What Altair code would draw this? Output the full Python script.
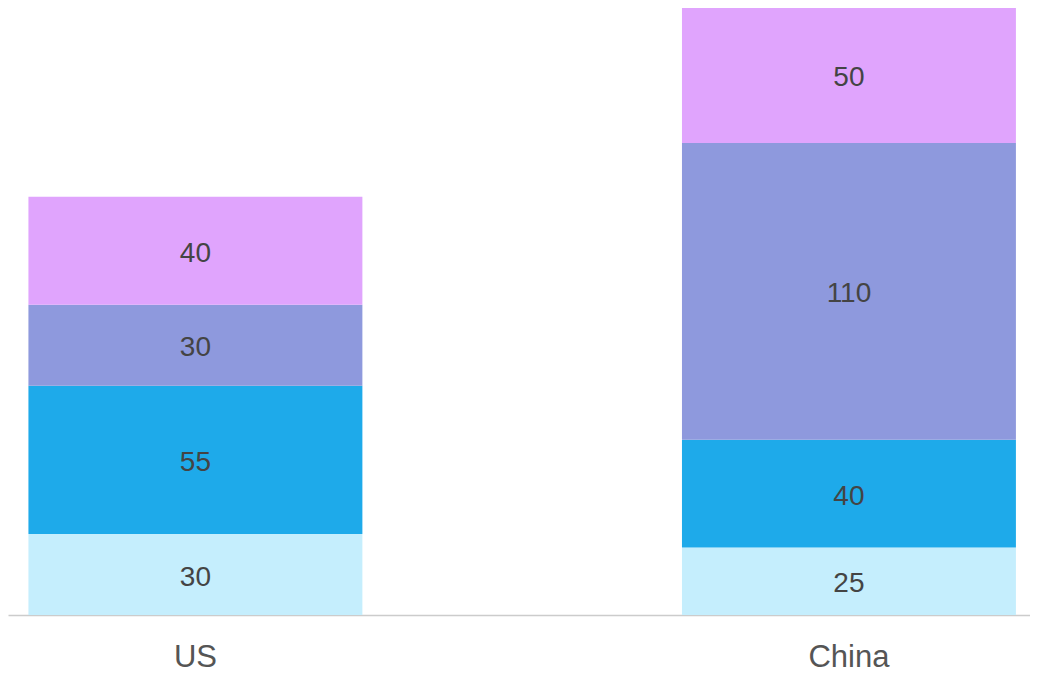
import altair as alt
import pandas as pd

countries = ["US", "China"]
segments = ["A", "B", "C", "D"]
us_values = [30, 55, 30, 40]
china_values = [25, 40, 110, 50]
colors = ["#c5eefd", "#1eaaea", "#8e99dd", "#e0a4fd"]

rows = []
for c, vals in zip(countries, [us_values, china_values]):
    for i, (s, v) in enumerate(zip(segments, vals)):
        rows.append({"country": c, "segment": s, "order": i, "value": v})
df = pd.DataFrame(rows)

x = alt.X("country:N", sort=countries, title=None,
          scale=alt.Scale(paddingInner=0.489, paddingOuter=0.0264, align=0.592),
          axis=alt.Axis(labelAngle=0, ticks=False, domainColor="#cccccc", domainWidth=1.5,
                        labelFontSize=31, labelColor="#555555", labelFont="Liberation Sans",
                        labelPadding=27))
y = alt.Y("value:Q", stack="zero", title=None, axis=None,
          scale=alt.Scale(domain=[0, 225], nice=False))

bars = alt.Chart(df).mark_bar().encode(
    x=x, y=y,
    color=alt.Color("segment:N", scale=alt.Scale(domain=segments, range=colors), legend=None),
    order=alt.Order("order:Q"),
)

text = alt.Chart(df).mark_text(fontSize=28, color="#444444", font="Liberation Sans",
                               baseline="middle", dy=3).encode(
    x=alt.X("country:N", sort=countries),
    y=alt.Y("mid:Q"),
    text=alt.Text("value:Q"),
).transform_stack(
    stack="value", groupby=["country"], sort=[alt.SortField("order")], as_=["y0", "y1"]
).transform_calculate(mid="(datum.y0 + datum.y1) / 2")

chart = alt.layer(bars, text).properties(
    width=1022, height=607, padding=0
).configure_view(strokeWidth=0, stroke="transparent")

chart.save("out.html", embed_options={"renderer": "svg", "actions": False})
